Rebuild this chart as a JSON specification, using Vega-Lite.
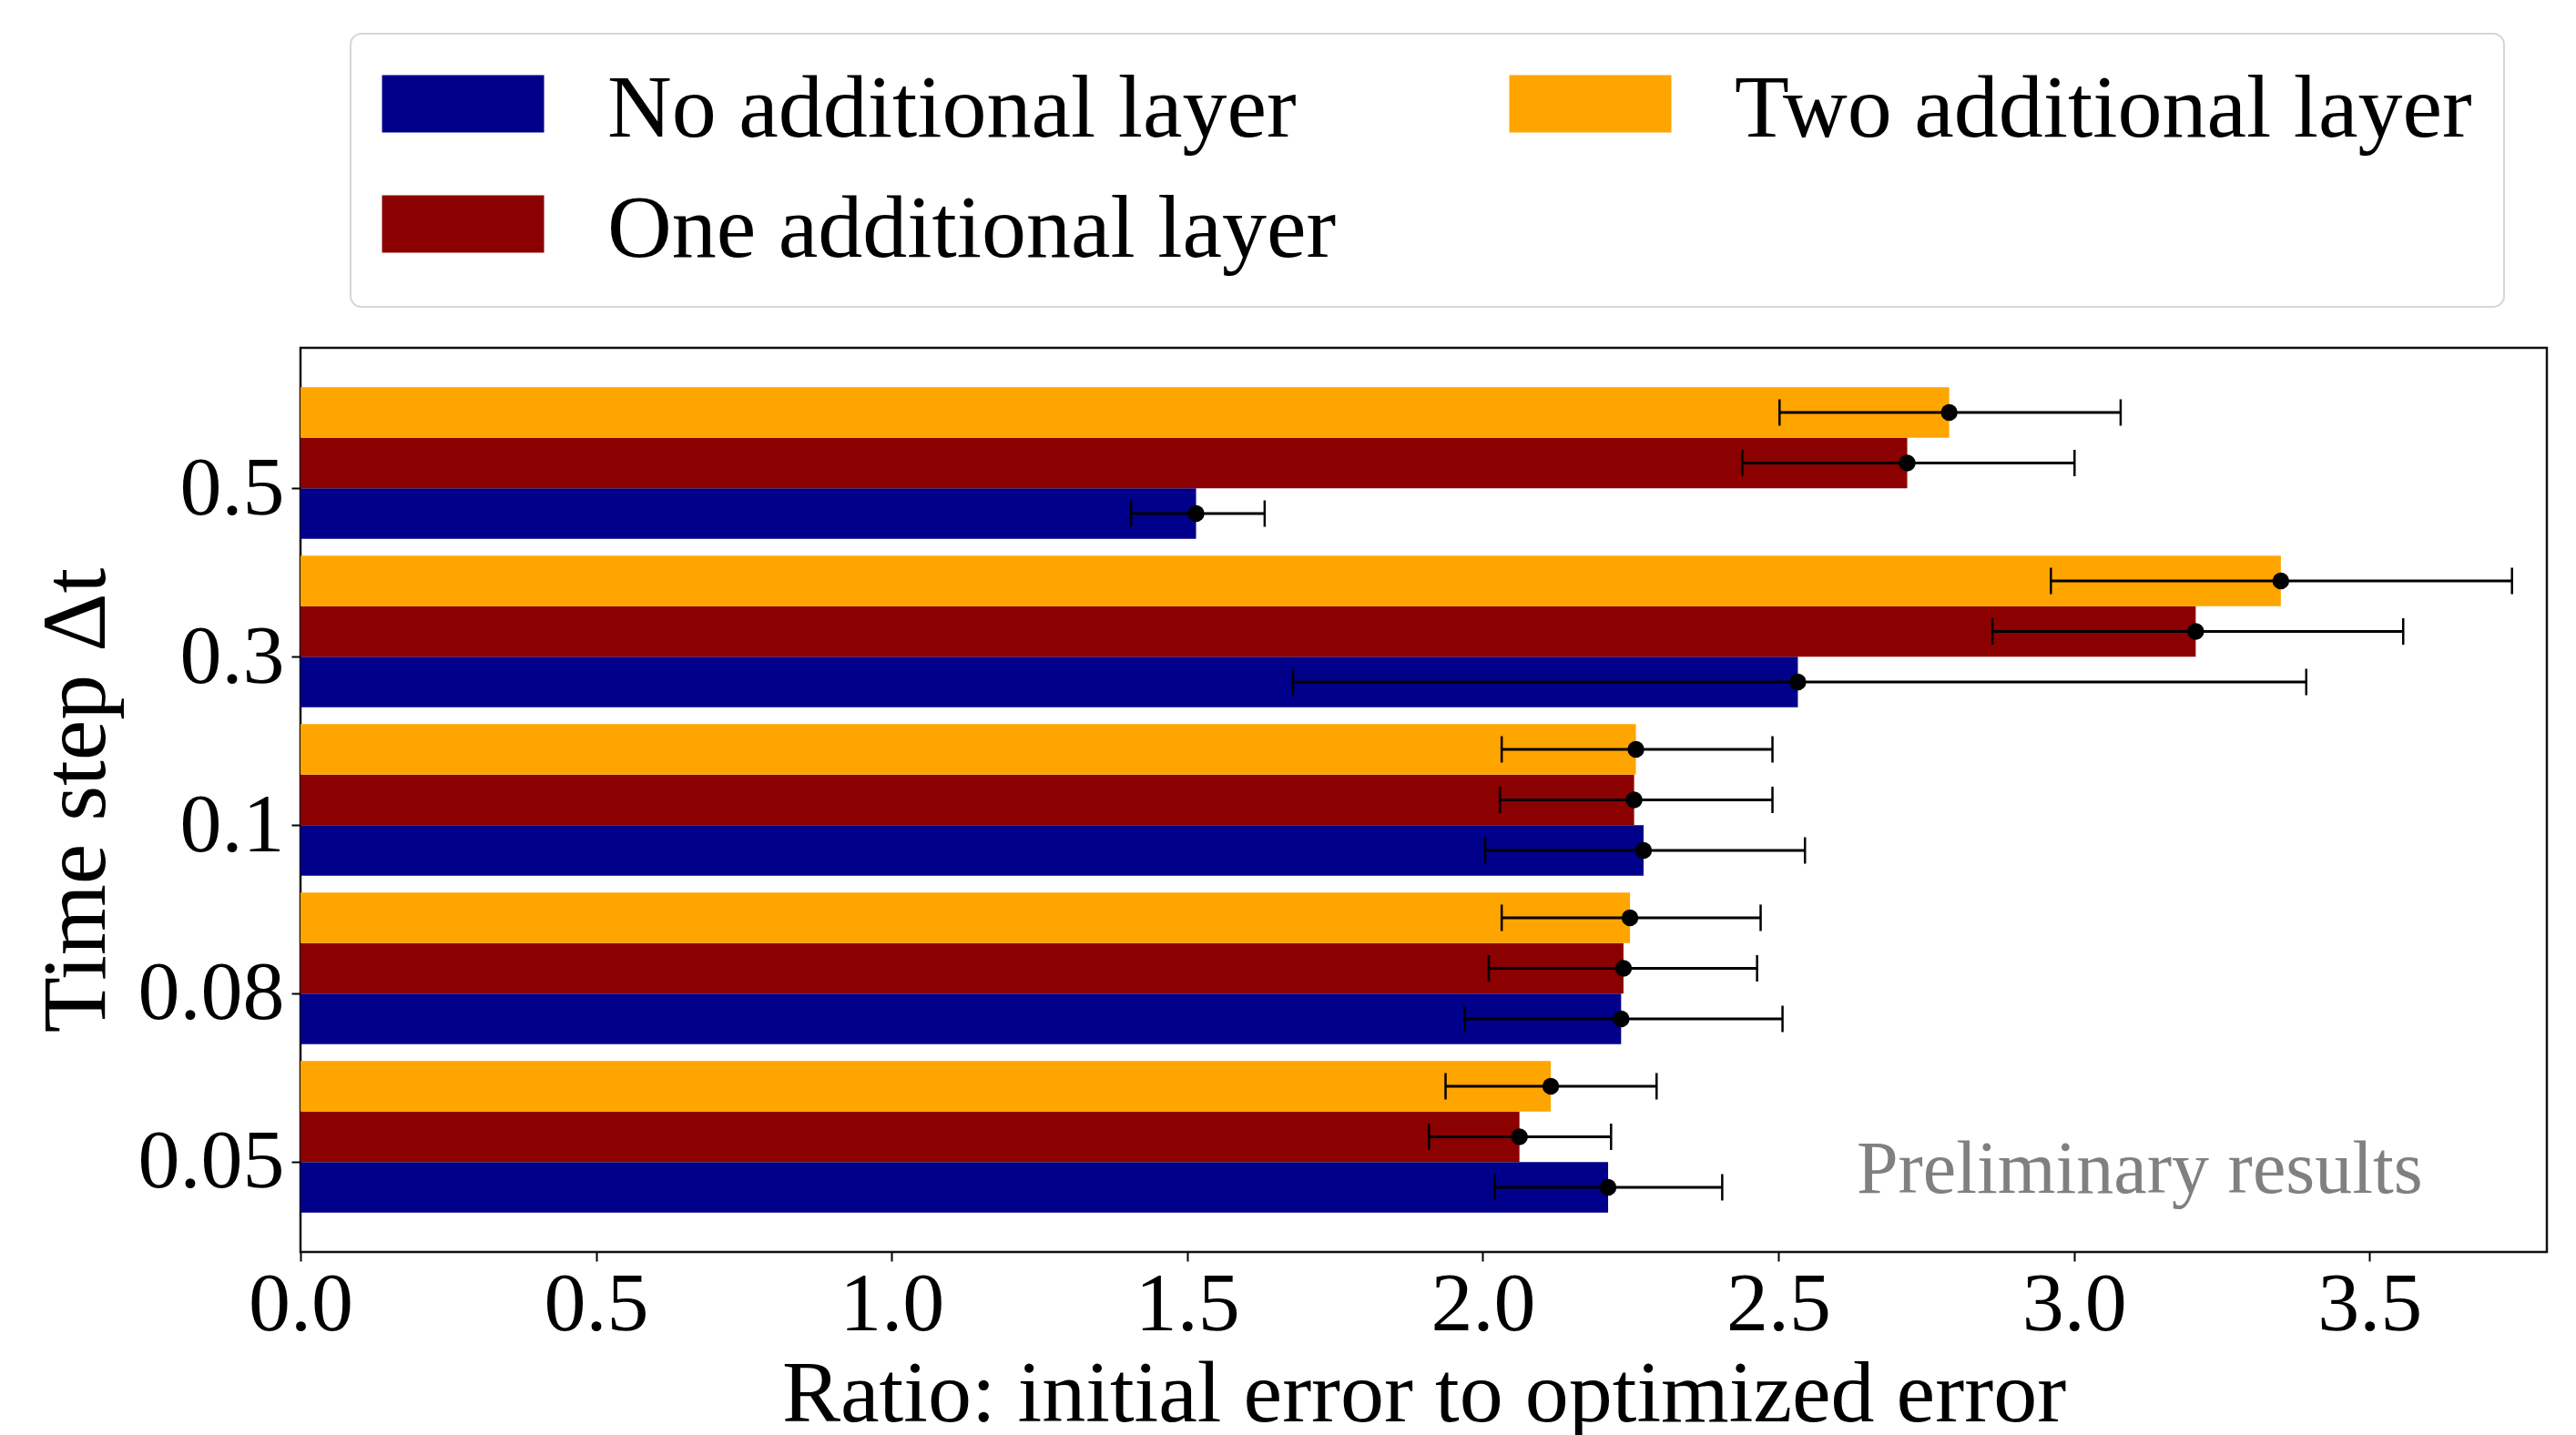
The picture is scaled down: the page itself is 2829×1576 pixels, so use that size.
{
  "$schema": "https://vega.github.io/schema/vega-lite/v6.json",
  "width": 2467,
  "height": 993,
  "autosize": {"type": "none"},
  "padding": {"left": 330, "top": 382, "right": 32, "bottom": 201},
  "background": "white",
  "config": {
    "font": "Liberation Serif",
    "view": {"stroke": "#111111", "strokeWidth": 2.5},
    "axis": {
      "grid": false,
      "domain": false,
      "labelFontSize": 92,
      "titleFontSize": 96,
      "labelColor": "black",
      "titleColor": "black",
      "tickColor": "black",
      "tickWidth": 2,
      "tickSize": 10,
      "titleFontWeight": "normal",
      "labelFont": "Liberation Serif",
      "titleFont": "Liberation Serif"
    },
    "legend": {
      "orient": "none",
      "legendX": 55,
      "legendY": -345,
      "columns": 2,
      "fillColor": "white",
      "strokeColor": "#d6d6d6",
      "strokeWidth": 2,
      "cornerRadius": 12,
      "padding": 35,
      "symbolType": "M-1.57,-1.22L4.08,-1.22L4.08,0.78L-1.57,0.78Z",
      "symbolSize": 3969,
      "symbolStrokeWidth": 0,
      "symbolOpacity": 1,
      "labelFont": "Liberation Serif",
      "labelFontSize": 98,
      "labelColor": "black",
      "labelOffset": 149,
      "labelLimit": 3000,
      "rowPadding": 34,
      "columnPadding": 189
    }
  },
  "data": {
    "values": [
      {"dt": "0.5", "series": "No additional layer", "value": 1.515, "lo": 1.405, "hi": 1.631},
      {"dt": "0.5", "series": "One additional layer", "value": 2.718, "lo": 2.439, "hi": 3.001},
      {"dt": "0.5", "series": "Two additional layer", "value": 2.789, "lo": 2.502, "hi": 3.079},
      {"dt": "0.3", "series": "No additional layer", "value": 2.533, "lo": 1.679, "hi": 3.393},
      {"dt": "0.3", "series": "One additional layer", "value": 3.206, "lo": 2.862, "hi": 3.557},
      {"dt": "0.3", "series": "Two additional layer", "value": 3.350, "lo": 2.961, "hi": 3.741},
      {"dt": "0.1", "series": "No additional layer", "value": 2.272, "lo": 2.004, "hi": 2.545},
      {"dt": "0.1", "series": "One additional layer", "value": 2.256, "lo": 2.029, "hi": 2.490},
      {"dt": "0.1", "series": "Two additional layer", "value": 2.259, "lo": 2.032, "hi": 2.490},
      {"dt": "0.08", "series": "No additional layer", "value": 2.234, "lo": 1.969, "hi": 2.507},
      {"dt": "0.08", "series": "One additional layer", "value": 2.238, "lo": 2.010, "hi": 2.464},
      {"dt": "0.08", "series": "Two additional layer", "value": 2.249, "lo": 2.032, "hi": 2.470},
      {"dt": "0.05", "series": "No additional layer", "value": 2.212, "lo": 2.020, "hi": 2.405},
      {"dt": "0.05", "series": "One additional layer", "value": 2.062, "lo": 1.909, "hi": 2.217},
      {"dt": "0.05", "series": "Two additional layer", "value": 2.115, "lo": 1.937, "hi": 2.294}
    ]
  },
  "layer": [
    {
      "mark": {"type": "bar", "cornerRadius": 0},
      "encoding": {
        "y": {
          "field": "dt", "type": "nominal",
          "scale": {"domain": ["0.5", "0.3", "0.1", "0.08", "0.05"], "paddingInner": 0.1, "paddingOuter": 0.234},
          "axis": {"title": "Time step Δt", "titleFontSize": 100, "bandPosition": 0.667, "labelOffset": 28, "labelPadding": 8, "titlePadding": 16}
        },
        "yOffset": {
          "field": "series", "type": "nominal",
          "scale": {"domain": ["Two additional layer", "One additional layer", "No additional layer"], "paddingInner": 0, "paddingOuter": 0}
        },
        "x": {
          "field": "value", "type": "quantitative",
          "scale": {"domain": [0, 3.8], "nice": false, "zero": true},
          "axis": {"title": "Ratio: initial error to optimized error", "values": [0, 0.5, 1, 1.5, 2, 2.5, 3, 3.5], "format": ".1f", "labelFlush": false, "labelPadding": 2, "titlePadding": 6}
        },
        "color": {
          "field": "series", "type": "nominal",
          "scale": {"domain": ["No additional layer", "One additional layer", "Two additional layer"], "range": ["#00008B", "#8B0000", "#FFA500"]},
          "legend": {"title": null}
        }
      }
    },
    {
      "mark": {"type": "rule", "color": "black", "strokeWidth": 3},
      "encoding": {
        "y": {"field": "dt", "type": "nominal"},
        "yOffset": {"field": "series", "type": "nominal"},
        "x": {"field": "lo", "type": "quantitative"},
        "x2": {"field": "hi"}
      }
    },
    {
      "mark": {"type": "tick", "color": "black", "thickness": 2.5, "size": 29, "opacity": 1},
      "encoding": {
        "y": {"field": "dt", "type": "nominal"},
        "yOffset": {"field": "series", "type": "nominal"},
        "x": {"field": "lo", "type": "quantitative"}
      }
    },
    {
      "mark": {"type": "tick", "color": "black", "thickness": 2.5, "size": 29, "opacity": 1},
      "encoding": {
        "y": {"field": "dt", "type": "nominal"},
        "yOffset": {"field": "series", "type": "nominal"},
        "x": {"field": "hi", "type": "quantitative"}
      }
    },
    {
      "mark": {"type": "point", "filled": true, "color": "black", "size": 340, "opacity": 1},
      "encoding": {
        "y": {"field": "dt", "type": "nominal"},
        "yOffset": {"field": "series", "type": "nominal"},
        "x": {"field": "value", "type": "quantitative"}
      }
    },
    {
      "data": {"values": [{"label": "Preliminary results"}]},
      "mark": {"type": "text", "align": "right", "baseline": "alphabetic", "dy": 62, "fontSize": 82, "color": "#808080", "font": "Liberation Serif"},
      "encoding": {
        "x": {"datum": 3.59, "type": "quantitative"},
        "y": {"datum": "0.05", "type": "nominal"},
        "text": {"field": "label"}
      }
    }
  ]
}
